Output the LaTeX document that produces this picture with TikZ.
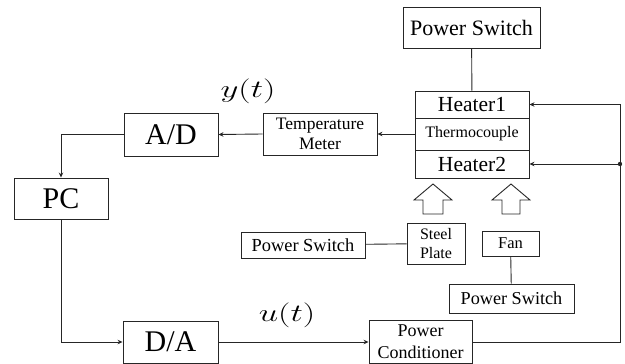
\documentclass[tikz,border=0pt]{standalone}
\usepackage{fontspec}
\setmainfont{Liberation Serif}
\usetikzlibrary{arrows.meta}
\begin{document}
\begin{tikzpicture}[x=1pt,y=-1pt,
  box/.style={draw=black!85, line width=0.9pt, inner sep=0pt, align=center, text=black},
  conn/.style={draw=black!85, line width=0.9pt},
  arr/.style={conn, -{Stealth[length=5pt,width=4.5pt]}},
  blockarrow/.style={draw=black!85, line width=0.9pt, fill=white, line join=miter}
]
\useasboundingbox (0,0) rectangle (625,364);

% boxes
\node[box, minimum width=137pt, minimum height=41pt, font=\fontsize{22}{26}\selectfont] (ps1) at (471.5,27.5) {Power Switch};
\node[box, minimum width=114pt, minimum height=27pt, font=\fontsize{21.5}{24}\selectfont] (h1) at (472,104.5) {Heater1};
\node[box, minimum width=114pt, minimum height=32pt, font=\fontsize{16}{19}\selectfont] (tc) at (472,134) {Thermocouple};
\node[box, minimum width=114pt, minimum height=28pt, font=\fontsize{21.5}{24}\selectfont] (h2) at (472,164) {Heater2};
\node[box, minimum width=114pt, minimum height=42pt, font=\fontsize{17.5}{20}\selectfont] (tm) at (320,134) {Temperature\\Meter};
\node[box, minimum width=94pt, minimum height=43pt, font=\fontsize{30}{32}\selectfont] (ad) at (171,134.5) {A/D};
\node[box, minimum width=94pt, minimum height=41pt, font=\fontsize{30}{32}\selectfont] (pc) at (61,198.5) {PC};
\node[box, minimum width=95pt, minimum height=42pt, font=\fontsize{30}{32}\selectfont] (da) at (170.5,342) {D/A};
\node[box, minimum width=103pt, minimum height=43pt, font=\fontsize{18}{22}\selectfont] (pcond) at (420.5,342) {Power\\Conditioner};
\node[box, minimum width=124pt, minimum height=26pt, font=\fontsize{18.4}{22}\selectfont] (ps2) at (303,245) {Power Switch};
\node[box, minimum width=58pt, minimum height=41pt, font=\fontsize{16}{19}\selectfont] (steel) at (436,243.5) {Steel\\Plate};
\node[box, minimum width=57pt, minimum height=25pt, font=\fontsize{16.5}{19}\selectfont] (fan) at (510.5,243.5) {Fan};
\node[box, minimum width=125pt, minimum height=29pt, font=\fontsize{18.2}{22}\selectfont] (ps3) at (511.5,298.5) {Power Switch};

% labels
\node[font=\fontsize{23}{26}\selectfont, inner sep=0pt] (yt) at (248,91) {\scalebox{1.4}[1]{$y(t)$}};
\node[font=\fontsize{23}{26}\selectfont, inner sep=0pt] (ut) at (287,315) {\scalebox{1.4}[1]{$u(t)$}};

% block arrows
\draw[blockarrow] (433,184) -- (452,200) -- (443,200) -- (443,214) -- (423,214) -- (423,200) -- (414,200) -- cycle;
\draw[blockarrow] (511,184) -- (530,200) -- (520,200) -- (520,214) -- (502,214) -- (502,200) -- (492,200) -- cycle;

% connectors
\coordinate (cr) at (620,342);
\coordinate (ct) at (620,104.5);
\coordinate (bus) at (620,164);
\draw[conn] (ps1) -- (h1);
\draw[arr] (tc.west) -- (tm.east);
\draw[arr] (tm.west) -- (ad.east);
\draw[arr] (ad.west) -| (pc.north);
\draw[arr] (pc.south) |- (da.west);
\draw[arr] (da.east) -- (pcond.west);
\draw[arr] (pcond.east) -- (cr) -- (ct) -- (h1.east);
\draw[arr] (bus) -- (h2.east);
\fill[black!85] (bus) circle (2.2pt);
\draw[conn] (ps2) -- (steel);
\draw[conn] (fan) -- (ps3);
\end{tikzpicture}
\end{document}
